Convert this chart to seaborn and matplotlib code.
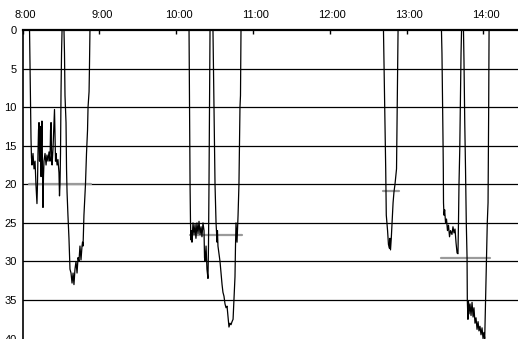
import matplotlib
matplotlib.use("Agg")
import matplotlib.pyplot as plt
import matplotlib.transforms as mtransforms
import seaborn as sns
import pandas as pd

# ---- data: minutes after 8:00, depth (m) ----
dive1_t = [0, 5.5, 5.9, 6.25, 6.64, 7.0, 7.4, 8.2, 9.0, 9.8, 10.5, 11.3, 11.7, 12.1, 12.5, 12.9, 13.3,
           13.7, 14.1, 14.5, 14.8, 15.2, 15.6, 16.0, 16.4, 16.8, 17.6, 18.4, 19.1, 19.9, 20.7, 21.5,
           21.9, 22.3, 22.7, 23.1, 23.8, 24.6, 25.0, 25.4, 25.8, 26.2, 27.0, 27.7, 28.5, 28.9, 29.3,
           29.7, 30.1, 30.5, 30.9]
dive1_d = [0, 0, 5, 9, 14, 16.5, 17.5, 16, 18, 17, 20, 22.5, 20, 16, 13, 12, 17,
           14, 12.5, 19, 15, 11.8, 18, 23, 19, 17, 16, 17.5, 16.2, 17, 15.8, 17,
           13, 12, 16, 17.5, 15.5, 12, 10.3, 14, 17, 16, 17.5, 16.8, 18.5, 21.5, 20,
           16, 8, 3, 0]

dive2_t = [32.4, 32.8, 33.2, 34.0, 34.4, 34.8, 35.5, 36.3, 37.1, 37.9, 38.7, 39.5, 40.2, 41.0, 41.8,
           42.6, 43.4, 44.1, 44.9, 45.7, 46.5, 46.9, 47.3, 48.0, 49.2, 50.0, 50.8, 51.2, 52.0, 52.3, 52.7]
dive2_d = [0, 3, 8.5, 12, 18, 21, 24, 27, 31, 31.5, 32.8, 31.5, 33, 31, 30,
           31.5, 29.5, 30, 28, 29.8, 28, 27.5, 28, 24, 20, 16, 13, 10, 8, 5, 0]

dive3_t = [130.1, 130.5, 130.9, 131.25, 131.6, 132.0, 132.4, 133.2, 134.0, 134.8, 135.5, 136.3, 137.1,
           137.9, 138.7, 139.5, 140.2, 141.0, 141.8, 142.2, 142.6, 143.4, 144.1, 144.9, 145.3, 145.7,
           146.1, 146.5]
dive3_d = [0, 10, 20, 25, 27.2, 26, 27.5, 25, 26.5, 25.2, 27, 25, 26.4,
           24.8, 26.5, 25.5, 26.8, 25, 26, 29.5, 30, 28, 31, 32.2, 28, 20,
           10, 0]

dive4_t = [148.8, 149.2, 149.6, 150.0, 150.4, 151.2, 152.0, 152.3, 152.7, 153.5, 154.3, 155.1, 155.9,
           156.6, 157.4, 158.2, 159.0, 159.8, 160.5, 161.3, 162.1, 162.9, 163.7, 164.5, 165.2, 166.0,
           166.4, 166.8, 167.6, 168.4, 169.1, 169.9, 170.3, 170.7]
dive4_d = [0, 5, 10, 16, 20, 25, 27.5, 26, 28, 29, 30, 31.5, 33,
           34, 34.5, 35.5, 36, 35.8, 37, 38.5, 38, 38.2, 37.8, 37.5, 35, 32,
           28, 25, 27.5, 24, 20, 10, 8.5, 0]

dive5_t = [282.0, 282.4, 282.8, 283.2, 283.75, 284.2, 285.2, 285.9, 286.7, 287.1, 287.5, 288.1, 288.7,
           289.5, 290.2, 291.0, 292.2, 292.6, 293.0, 293.4]
dive5_d = [0, 4, 8, 12.3, 18, 24, 26, 27.8, 28.3, 27, 28.5, 27, 25,
           22.4, 21, 20, 18, 12, 7, 0]

dive6_t = [327.3, 327.7, 328.1, 328.5, 328.75, 328.9, 329.3, 329.8, 330.5, 331.25, 332.0, 332.8, 333.6,
           334.4, 335.5, 336.3, 337.1, 337.9, 338.7, 339.5, 340.2, 340.6, 341.0, 341.6, 342.2, 342.6, 343.0]
dive6_d = [0, 3, 8, 14, 18, 22.4, 24, 23.3, 25, 24.5, 26, 25.3, 26.8,
           26, 26.5, 25.5, 26.3, 25.8, 27.6, 28.9, 29, 25, 20, 15.5, 8, 3, 0]

dive7_t = [344.5, 344.9, 345.5, 346.1, 346.7, 347.3, 347.5, 348.0, 348.4, 348.8, 349.6, 350.4, 351.2,
           352.0, 352.7, 353.5, 354.3, 355.1, 355.9, 356.6, 357.4, 358.2, 359.0, 359.8, 360.5, 361.1,
           361.5, 361.9, 362.5, 363.1, 363.7, 363.9, 364.2, 364.5, 388]
dive7_d = [0, 4, 12, 18, 25, 29.5, 35, 37.5, 35.2, 36.8, 35.5, 37, 35.3,
           37.2, 36, 38, 37.3, 38.8, 37.8, 39, 38.4, 39.5, 38.6, 40, 39.2, 40,
           37, 34.3, 30, 25, 22.4, 18, 10, 0, 0]

# mean-depth bars (grey)
mean_start = [5.1, 130.9, 281.9, 327.2]
mean_end = [53.5, 171.5, 293.9, 365.0]
mean_depth = [19.9, 26.6, 20.9, 29.5]

hour_ticks = [0, 60, 120, 180, 240, 300, 360]
hour_labels = ["8:00", "9:00", "10:00", "11:00", "12:00", "13:00", "14:00"]
depth_ticks = [0, 5, 10, 15, 20, 25, 30, 35, 40]

# ---- build frames ----
trace_t = dive1_t + dive2_t + dive3_t + dive4_t + dive5_t + dive6_t + dive7_t
trace_d = dive1_d + dive2_d + dive3_d + dive4_d + dive5_d + dive6_d + dive7_d
trace = pd.DataFrame({"t": trace_t, "d": trace_d})

rows = []
for i, (s, e, d) in enumerate(zip(mean_start, mean_end, mean_depth)):
    rows.append({"t": s, "d": d, "u": i})
    rows.append({"t": e, "d": d, "u": i})
means = pd.DataFrame(rows)

sns.set_style("white")
plt.rcParams["font.family"] = ["Liberation Sans", "DejaVu Sans"]

fig = plt.figure(figsize=(5.18, 3.39), dpi=100)
ax = fig.add_axes([22.5 / 518, 0, 1 - 22.5 / 518, 309 / 339])

for y in depth_ticks[1:-1]:
    ax.axhline(y, color="black", lw=0.9, zorder=1)

sns.lineplot(data=means, x="t", y="d", units="u", estimator=None, sort=False,
             color="#9a9a9a", lw=1.6, ax=ax, zorder=2)
sns.lineplot(data=trace, x="t", y="d", estimator=None, sort=False,
             color="black", lw=0.9, ax=ax, zorder=3)

ax.set_xlim(0, 387.1)
ax.set_ylim(40.05, 0)
ax.set_xlabel("")
ax.set_ylabel("")

ax.xaxis.tick_top()
ax.set_xticks(hour_ticks)
ax.set_xticklabels(hour_labels, fontsize=8)
ax.set_yticks(depth_ticks)
ax.set_yticklabels([str(v) for v in depth_ticks], fontsize=8)
ax.tick_params(axis="x", direction="in", length=3, width=1, pad=7, colors="black")
ax.tick_params(axis="y", length=0, pad=4, colors="black")

offset = mtransforms.ScaledTranslation(2.5 / 100, 0, fig.dpi_scale_trans)
for lab in ax.get_xticklabels():
    lab.set_transform(lab.get_transform() + offset)

for side in ["right", "bottom"]:
    ax.spines[side].set_visible(False)
ax.spines["top"].set_color("black")
ax.spines["top"].set_linewidth(1.6)
ax.spines["left"].set_color("black")
ax.spines["left"].set_linewidth(1.2)
ax.grid(False)

fig.savefig("out.png", dpi=100)
